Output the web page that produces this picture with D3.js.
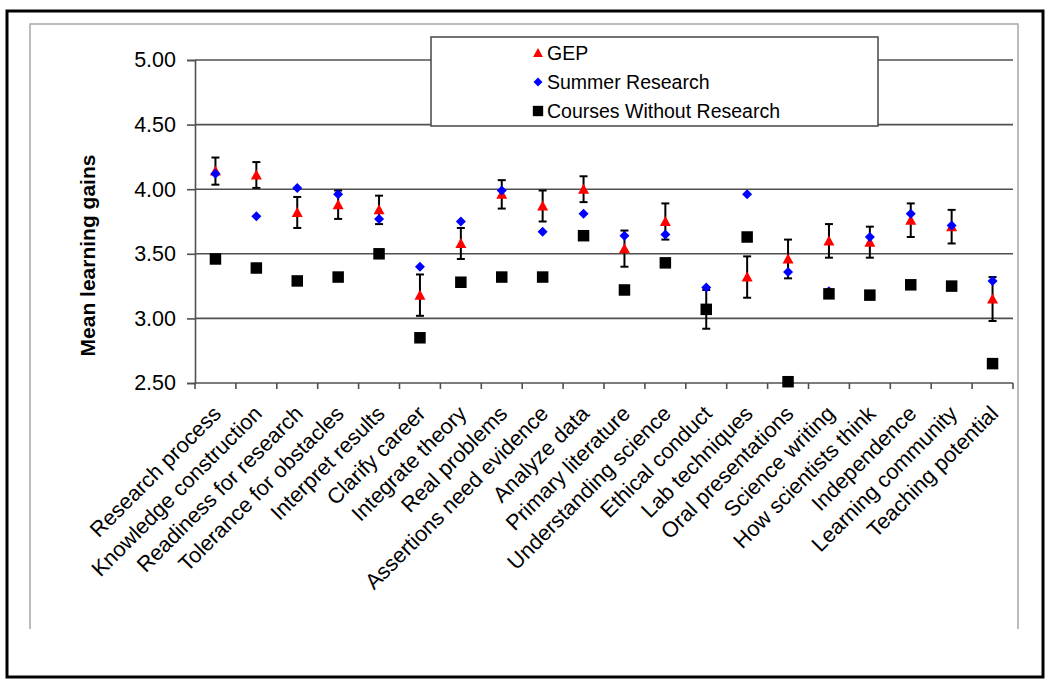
<!DOCTYPE html>
<html>
<head>
<meta charset="utf-8">
<script src="https://cdn.jsdelivr.net/npm/d3@7"></script>
<style>
  html, body { margin: 0; padding: 0; background: #fff; }
  svg { display: block; font-family: "Liberation Sans", Arial, sans-serif; }
</style>
</head>
<body>
<svg id="chart" width="1050" height="681"></svg>
<script>
// ---------- DATA ----------
const categories = [
  "Research process", "Knowledge construction", "Readiness for research",
  "Tolerance for obstacles", "Interpret results", "Clarify career",
  "Integrate theory", "Real problems", "Assertions need evidence",
  "Analyze data", "Primary literature", "Understanding science",
  "Ethical conduct", "Lab techniques", "Oral presentations",
  "Science writing", "How scientists think", "Independence",
  "Learning community", "Teaching potential"
];
const gep = [4.14, 4.11, 3.82, 3.88, 3.84, 3.18, 3.58, 3.96, 3.87, 4.00,
             3.54, 3.75, 3.07, 3.32, 3.46, 3.60, 3.59, 3.76, 3.71, 3.15];
const gepErr = [0.105, 0.10, 0.12, 0.11, 0.11, 0.16, 0.12, 0.11, 0.12, 0.10,
                0.14, 0.14, 0.15, 0.16, 0.15, 0.13, 0.12, 0.13, 0.13, 0.17];
const summer = [4.12, 3.79, 4.01, 3.96, 3.77, 3.40, 3.75, 3.99, 3.67, 3.81,
                3.64, 3.65, 3.24, 3.96, 3.36, 3.21, 3.63, 3.81, 3.72, 3.29];
const courses = [3.46, 3.39, 3.29, 3.32, 3.50, 2.85, 3.28, 3.32, 3.32, 3.64,
                 3.22, 3.43, 3.07, 3.63, 2.51, 3.19, 3.18, 3.26, 3.25, 2.65];
const yTicks = [2.5, 3.0, 3.5, 4.0, 4.5, 5.0];
const seriesNames = ["GEP", "Summer Research", "Courses Without Research"];
const yTitle = "Mean learning gains";

// ---------- LAYOUT ----------
const svg = d3.select("#chart");
const X0 = 195, X1 = 1013, Y0 = 383, Y1 = 60;
const x = d3.scaleBand().domain(categories).range([X0, X1]).padding(0);
const y = d3.scaleLinear().domain([2.5, 5.0]).range([Y0, Y1]);
const cx = d => x(d) + x.bandwidth() / 2;

// outer frame
svg.append("rect").attr("x", 7).attr("y", 11).attr("width", 1036).attr("height", 666)
  .attr("fill", "none").attr("stroke", "#000").attr("stroke-width", 3);
// inner chart frame (grey)
svg.append("path").attr("d", "M30,629 V24 H1018 V629")
  .attr("fill", "none").attr("stroke", "#a8a8a8").attr("stroke-width", 1.5);

// gridlines
svg.append("g").selectAll("line").data(yTicks.filter(t => t > 2.5)).join("line")
  .attr("x1", X0).attr("x2", X1)
  .attr("y1", d => y(d)).attr("y2", d => y(d))
  .attr("stroke", "#505050").attr("stroke-width", 1.6);

// y axis
const yAxis = d3.axisLeft(y).tickValues(yTicks).tickFormat(d3.format(".2f"))
  .tickSize(8).tickPadding(11);
const gy = svg.append("g").attr("transform", `translate(${X0},0)`).call(yAxis);
gy.select(".domain").attr("stroke", "#505050").attr("stroke-width", 1.6);
gy.selectAll(".tick line").attr("stroke", "#505050").attr("stroke-width", 1.6);
gy.selectAll(".tick text").attr("font-size", 21.5).attr("fill", "#000")
  .attr("font-family", "Liberation Sans, Arial, sans-serif");

// x axis (ticks at category boundaries)
const xAxisLine = svg.append("g");
xAxisLine.append("line").attr("x1", X0).attr("x2", X1).attr("y1", Y0).attr("y2", Y0)
  .attr("stroke", "#505050").attr("stroke-width", 1.6);
const bounds = categories.map(c => x(c)).concat([X1]);
xAxisLine.selectAll("line.tk").data(bounds).join("line").attr("class", "tk")
  .attr("x1", d => d).attr("x2", d => d).attr("y1", Y0).attr("y2", Y0 + 6)
  .attr("stroke", "#505050").attr("stroke-width", 1.6);
svg.append("g").selectAll("text").data(categories).join("text")
  .attr("transform", d => `translate(${cx(d) + 7},${Y0 + 32}) rotate(-45)`)
  .attr("text-anchor", "end")
  .attr("font-size", 21.7).attr("fill", "#000")
  .text(d => d);

// y title
svg.append("text")
  .attr("transform", `translate(95,${(Y0 + Y1) / 2 + 34}) rotate(-90)`)
  .attr("text-anchor", "middle").attr("font-weight", "bold").attr("font-size", 21)
  .text(yTitle);

// ---------- MARKS ----------
const tri = (px, py) => `M${px},${py - 5.5} L${px + 5.5},${py + 4.5} L${px - 5.5},${py + 4.5} Z`;
const dia = (px, py) => `M${px},${py - 5} L${px + 5},${py} L${px},${py + 5} L${px - 5},${py} Z`;
const sq = (px, py) => `M${px - 5.75},${py - 5.75} h11.5 v11.5 h-11.5 Z`;

// error bars
const eb = svg.append("g").attr("stroke", "#000").attr("stroke-width", 2);
categories.forEach((c, i) => {
  const px = cx(c), lo = y(gep[i] - gepErr[i]), hi = y(gep[i] + gepErr[i]);
  eb.append("line").attr("x1", px).attr("x2", px).attr("y1", lo).attr("y2", hi);
  eb.append("line").attr("x1", px - 4).attr("x2", px + 4).attr("y1", lo).attr("y2", lo);
  eb.append("line").attr("x1", px - 4).attr("x2", px + 4).attr("y1", hi).attr("y2", hi);
});

svg.append("g").selectAll("path").data(categories).join("path")
  .attr("d", (c, i) => tri(cx(c), y(gep[i]))).attr("fill", "#ff0000");
svg.append("g").selectAll("path").data(categories).join("path")
  .attr("d", (c, i) => dia(cx(c), y(summer[i]))).attr("fill", "#0000ff");
svg.append("g").selectAll("path").data(categories).join("path")
  .attr("d", (c, i) => sq(cx(c), y(courses[i]))).attr("fill", "#000");

// ---------- LEGEND ----------
const lg = svg.append("g");
lg.append("rect").attr("x", 431).attr("y", 37).attr("width", 447).attr("height", 89)
  .attr("fill", "#fff").attr("stroke", "#505050").attr("stroke-width", 1.6);
const legendShapes = [tri, dia, sq];
const legendColors = ["#ff0000", "#0000ff", "#000"];
seriesNames.forEach((n, i) => {
  const ly = 53 + i * 29;
  lg.append("path").attr("d", legendShapes[i](538, ly)).attr("fill", legendColors[i])
    .attr("transform", `translate(${538},${ly}) scale(0.9) translate(${-538},${-ly})`);
  lg.append("text").attr("x", 547).attr("y", ly + 6.5).attr("font-size", 19.5).text(n);
});
</script>
</body>
</html>
